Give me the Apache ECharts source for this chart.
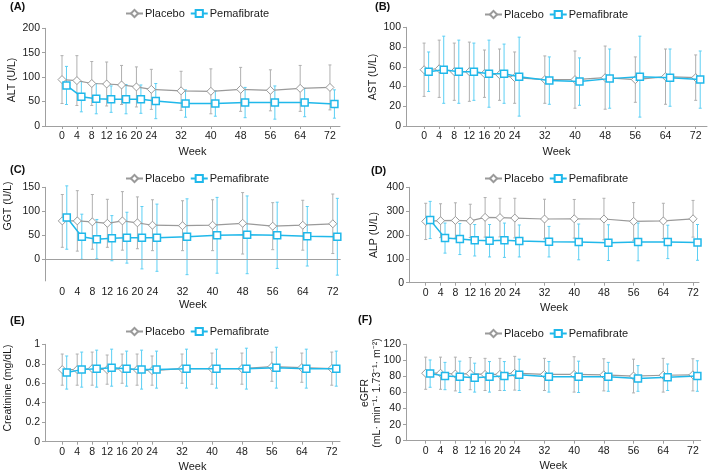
<!DOCTYPE html>
<html>
<head>
<meta charset="utf-8">
<script src="https://cdn.jsdelivr.net/npm/echarts@6/dist/echarts.min.js"></script>
<style>html,body{margin:0;padding:0;background:#fff}#c{width:709px;height:476px}</style>
</head>
<body>
<div id="c"></div>
<script>
// ---------- data ----------
const weeks = [0, 4, 8, 12, 16, 20, 24, 32, 40, 48, 56, 64, 72];
const weekTicks = [0, 4, 8, 12, 16, 20, 24, 32, 40, 48, 56, 64, 72];

const altPlacebo   = [95, 93, 87, 86, 84, 80, 75, 72, 71, 75, 73, 77, 79];
const altPlaceboSD = [49, 51, 45, 45, 40, 41, 41, 40, 46, 45, 42, 47, 46];
const altPema      = [83, 60, 56, 55, 55, 55, 51, 46, 46, 48, 48, 48, 45];
const altPemaSD    = [39, 31, 31, 27, 30, 29, 36, 28, 26, 31, 34, 29, 29];
const altTicks = [0, 50, 100, 150, 200];

const astPlacebo   = [57, 58, 55, 55, 53, 52, 49, 47, 47, 49, 47, 50, 49];
const astPlaceboSD = [27, 29, 29, 30, 24, 26, 26, 24, 29, 32, 23, 28, 23];
const astPema      = [55, 57, 55, 55, 53, 53, 50, 46, 45, 48, 50, 49, 47];
const astPemaSD    = [20, 34, 32, 29, 34, 30, 40, 24, 24, 30, 41, 29, 29];
const astTicks = [0, 20, 40, 60, 80, 100];

const ggtPlacebo   = [80, 80, 78, 75, 80, 76, 71, 70, 71, 75, 69, 71, 74];
const ggtPlaceboSD = [55, 63, 57, 50, 61, 54, 53, 52, 53, 64, 49, 52, 62];
const ggtPema      = [87, 47, 42, 44, 45, 45, 45, 47, 50, 51, 50, 48, 47];
const ggtPemaSD    = [66, 47, 41, 47, 53, 65, 70, 79, 79, 81, 69, 62, 80];
const ggtTicks = [0, 50, 100, 150];

const alpPlacebo   = [257, 260, 261, 259, 274, 273, 271, 267, 268, 267, 257, 259, 268];
const alpPlaceboSD = [76, 71, 74, 70, 83, 81, 83, 83, 81, 87, 79, 74, 77];
const alpPema      = [263, 187, 183, 178, 176, 178, 175, 172, 171, 168, 171, 171, 169];
const alpPemaSD    = [78, 63, 65, 66, 68, 72, 67, 64, 75, 75, 79, 70, 75];
const alpTicks = [0, 100, 200, 300, 400];

const crePlacebo   = [0.74, 0.74, 0.75, 0.74, 0.75, 0.74, 0.73, 0.75, 0.75, 0.75, 0.77, 0.76, 0.75];
const crePlaceboSD = [0.16, 0.16, 0.17, 0.15, 0.15, 0.16, 0.15, 0.15, 0.16, 0.16, 0.15, 0.15, 0.17];
const crePema      = [0.71, 0.74, 0.75, 0.76, 0.75, 0.74, 0.74, 0.75, 0.75, 0.75, 0.76, 0.75, 0.75];
const crePemaSD    = [0.17, 0.18, 0.19, 0.19, 0.18, 0.20, 0.19, 0.20, 0.20, 0.21, 0.21, 0.20, 0.18];
const creTicks = [0, 0.2, 0.4, 0.6, 0.8, 1];

const egfrPlacebo   = [84, 84, 83, 83.5, 82.5, 82.5, 84, 82.5, 82.5, 82, 80.5, 81.5, 82];
const egfrPlaceboSD = [20, 20, 21, 20, 20, 20, 21, 20, 22, 20, 21, 21, 20];
const egfrPema      = [83.5, 80.5, 79.5, 78.5, 79.5, 80.5, 82, 79.5, 79.5, 79.5, 77.5, 79, 80.5];
const egfrPemaSD    = [17, 17, 19.5, 18, 19, 18, 19.5, 19, 19.5, 18, 16, 16.5, 19];
const egfrTicks = [0, 20, 40, 60, 80, 100, 120];

const panelLabels = ['(A)', '(B)', '(C)', '(D)', '(E)', '(F)'];
const yNames = ['ALT (U/L)', 'AST (U/L)', 'GGT (U/L)', 'ALP (U/L)', 'Creatinine (mg/dL)',
                'eGFR\n(mL\u00B7 min\u207B\u00B9\u00B7 1.73\u207B\u00B9\u00B7 m\u207B\u00B2)'];
const seriesNames = ['Placebo', 'Pemafibrate'];

// ---------- layout / style ----------
const FONT = 'Liberation Sans, Arial, Helvetica, sans-serif';
const GRAY = '#9a9a9a', GRAY_BAR = '#b0b0b0';
const CYAN = '#20b8ea', CYAN_BAR = '#5ccff4';
const AXIS = '#a0a0a0', TXT = '#1a1a1a';
const pemaDodge = 1.2; // horizontal dodge of the Pemafibrate group (weeks)

const panels = [
  {pm: altPlacebo, ps: altPlaceboSD, em: altPema, es: altPemaSD, ticks: altTicks, ymin: 0, ymax: 200,
   box: [45, 28.3, 340, 126], xr: [-4.57, 74.7], title: [10, 1], legend: [125, 8], yname: [12, 80]},
  {pm: astPlacebo, ps: astPlaceboSD, em: astPema, es: astPemaSD, ticks: astTicks, ymin: 0, ymax: 100,
   box: [406, 27.3, 707, 126], xr: [-4.8, 75], title: [375, 1], legend: [484, 9], yname: [373, 77]},
  {pm: ggtPlacebo, ps: ggtPlaceboSD, em: ggtPema, es: ggtPemaSD, ticks: ggtTicks, ymin: -45, ymax: 150,
   box: [45, 187.3, 340.7, 280.9], xr: [-4.6, 74.1], title: [10, 164], legend: [125, 173], yname: [8, 206], zeroLine: true},
  {pm: alpPlacebo, ps: alpPlaceboSD, em: alpPema, es: alpPemaSD, ticks: alpTicks, ymin: 0, ymax: 400,
   box: [409, 187.3, 699, 282.7], xr: [-4.5, 73.6], title: [371, 165], legend: [484, 173], yname: [374, 235]},
  {pm: crePlacebo, ps: crePlaceboSD, em: crePema, es: crePemaSD, ticks: creTicks, ymin: 0, ymax: 1,
   box: [45, 344.3, 340, 441.7], xr: [-4.6, 74.2], title: [10, 315], legend: [125, 326], yname: [8, 388]},
  {pm: egfrPlacebo, ps: egfrPlaceboSD, em: egfrPema, es: egfrPemaSD, ticks: egfrTicks, ymin: 0, ymax: 120,
   box: [406, 344.3, 700.7, 440.7], xr: [-5.3, 74.1], title: [358, 314], legend: [484, 328], yname: [371, 393]}
];

function errorRender(color) {
  return function (params, api) {
    const x = api.value(0), lo = api.value(1), hi = api.value(2);
    const p1 = api.coord([x, lo]), p2 = api.coord([x, hi]);
    const st = {stroke: color, lineWidth: 1};
    return {
      type: 'group',
      children: [
        {type: 'line', shape: {x1: p1[0], y1: p1[1], x2: p2[0], y2: p2[1]}, style: st},
        {type: 'line', shape: {x1: p1[0] - 1.5, y1: p1[1], x2: p1[0] + 1.5, y2: p1[1]}, style: st},
        {type: 'line', shape: {x1: p2[0] - 1.5, y1: p2[1], x2: p2[0] + 1.5, y2: p2[1]}, style: st}
      ]
    };
  };
}

const option = {
  animation: false, backgroundColor: '#fff',
  textStyle: {fontFamily: FONT},
  title: [], legend: [], grid: [], xAxis: [], yAxis: [], series: [], graphic: []
};

panels.forEach((p, i) => {
  option.grid.push({left: p.box[0], top: p.box[1], width: p.box[2] - p.box[0], height: p.box[3] - p.box[1]});
  option.title.push({text: panelLabels[i], left: p.title[0], top: p.title[1], padding: 0,
    textStyle: {fontSize: 11, fontWeight: 'bold', color: '#111', fontFamily: FONT}});
  option.legend.push({data: seriesNames, left: p.legend[0], top: p.legend[1], padding: 0,
    itemWidth: 17, itemHeight: 9, itemGap: 5, selectedMode: false,
    textStyle: {fontSize: 11, color: TXT, fontFamily: FONT, padding: [0, 0, 0, -3]}});
  option.xAxis.push({
    gridIndex: i, type: 'value', min: p.xr[0], max: p.xr[1],
    name: 'Week', nameLocation: 'middle', nameGap: p.zeroLine ? 19 : 20,
    nameTextStyle: {fontSize: 11, color: TXT, fontFamily: FONT},
    axisLine: {show: !p.zeroLine, onZero: false, lineStyle: {color: AXIS, width: 1}},
    axisTick: {show: !p.zeroLine, customValues: weekTicks, length: 3, lineStyle: {color: AXIS}},
    axisLabel: {customValues: weekTicks, margin: p.zeroLine ? 6 : 5, fontSize: 10.5, color: TXT, fontFamily: FONT},
    splitLine: {show: false}
  });
  option.yAxis.push({
    gridIndex: i, type: 'value', min: p.ymin, max: p.ymax,
    axisLine: {show: true, onZero: false, lineStyle: {color: AXIS, width: 1}},
    axisTick: {show: true, customValues: p.ticks, length: 3, lineStyle: {color: AXIS}},
    axisLabel: {customValues: p.ticks, margin: 5, fontSize: 10.5, color: TXT, fontFamily: FONT},
    splitLine: {show: false}
  });
  option.graphic.push({
    type: 'text', x: p.yname[0], y: p.yname[1], rotation: Math.PI / 2,
    style: {text: yNames[i], fill: TXT, font: '10.5px ' + FONT, align: 'center', verticalAlign: 'middle', lineHeight: 12}
  });

  option.series.push({
    type: 'custom', name: 'Placebo SD', xAxisIndex: i, yAxisIndex: i, z: 1,
    renderItem: errorRender(GRAY_BAR), encode: {x: 0, y: [1, 2]},
    data: weeks.map((w, k) => [w, p.pm[k] - p.ps[k], p.pm[k] + p.ps[k]])
  });
  option.series.push({
    type: 'custom', name: 'Pemafibrate SD', xAxisIndex: i, yAxisIndex: i, z: 2,
    renderItem: errorRender(CYAN_BAR), encode: {x: 0, y: [1, 2]},
    data: weeks.map((w, k) => [w + pemaDodge, p.em[k] - p.es[k], p.em[k] + p.es[k]])
  });
  const plac = {
    type: 'line', name: 'Placebo', xAxisIndex: i, yAxisIndex: i, z: 3,
    symbol: 'diamond', symbolSize: 8, showAllSymbol: true,
    lineStyle: {color: GRAY, width: 1.2},
    itemStyle: {color: '#fff', borderColor: GRAY, borderWidth: 1},
    data: weeks.map((w, k) => [w, p.pm[k]])
  };
  if (p.zeroLine) {
    plac.markLine = {silent: true, symbol: ['none', 'none'], label: {show: false},
      lineStyle: {color: AXIS, width: 1, type: 'solid'}, emphasis: {disabled: true},
      data: [{yAxis: 0}]};
  }
  option.series.push(plac);
  option.series.push({
    type: 'line', name: 'Pemafibrate', xAxisIndex: i, yAxisIndex: i, z: 4,
    symbol: 'rect', symbolSize: 7, showAllSymbol: true,
    lineStyle: {color: CYAN, width: 1.5},
    itemStyle: {color: '#fff', borderColor: CYAN, borderWidth: 1.5},
    data: weeks.map((w, k) => [w + pemaDodge, p.em[k]])
  });
});

const chart = echarts.init(document.getElementById('c'), null, {renderer: 'canvas'});
chart.setOption(option);
</script>
</body>
</html>
